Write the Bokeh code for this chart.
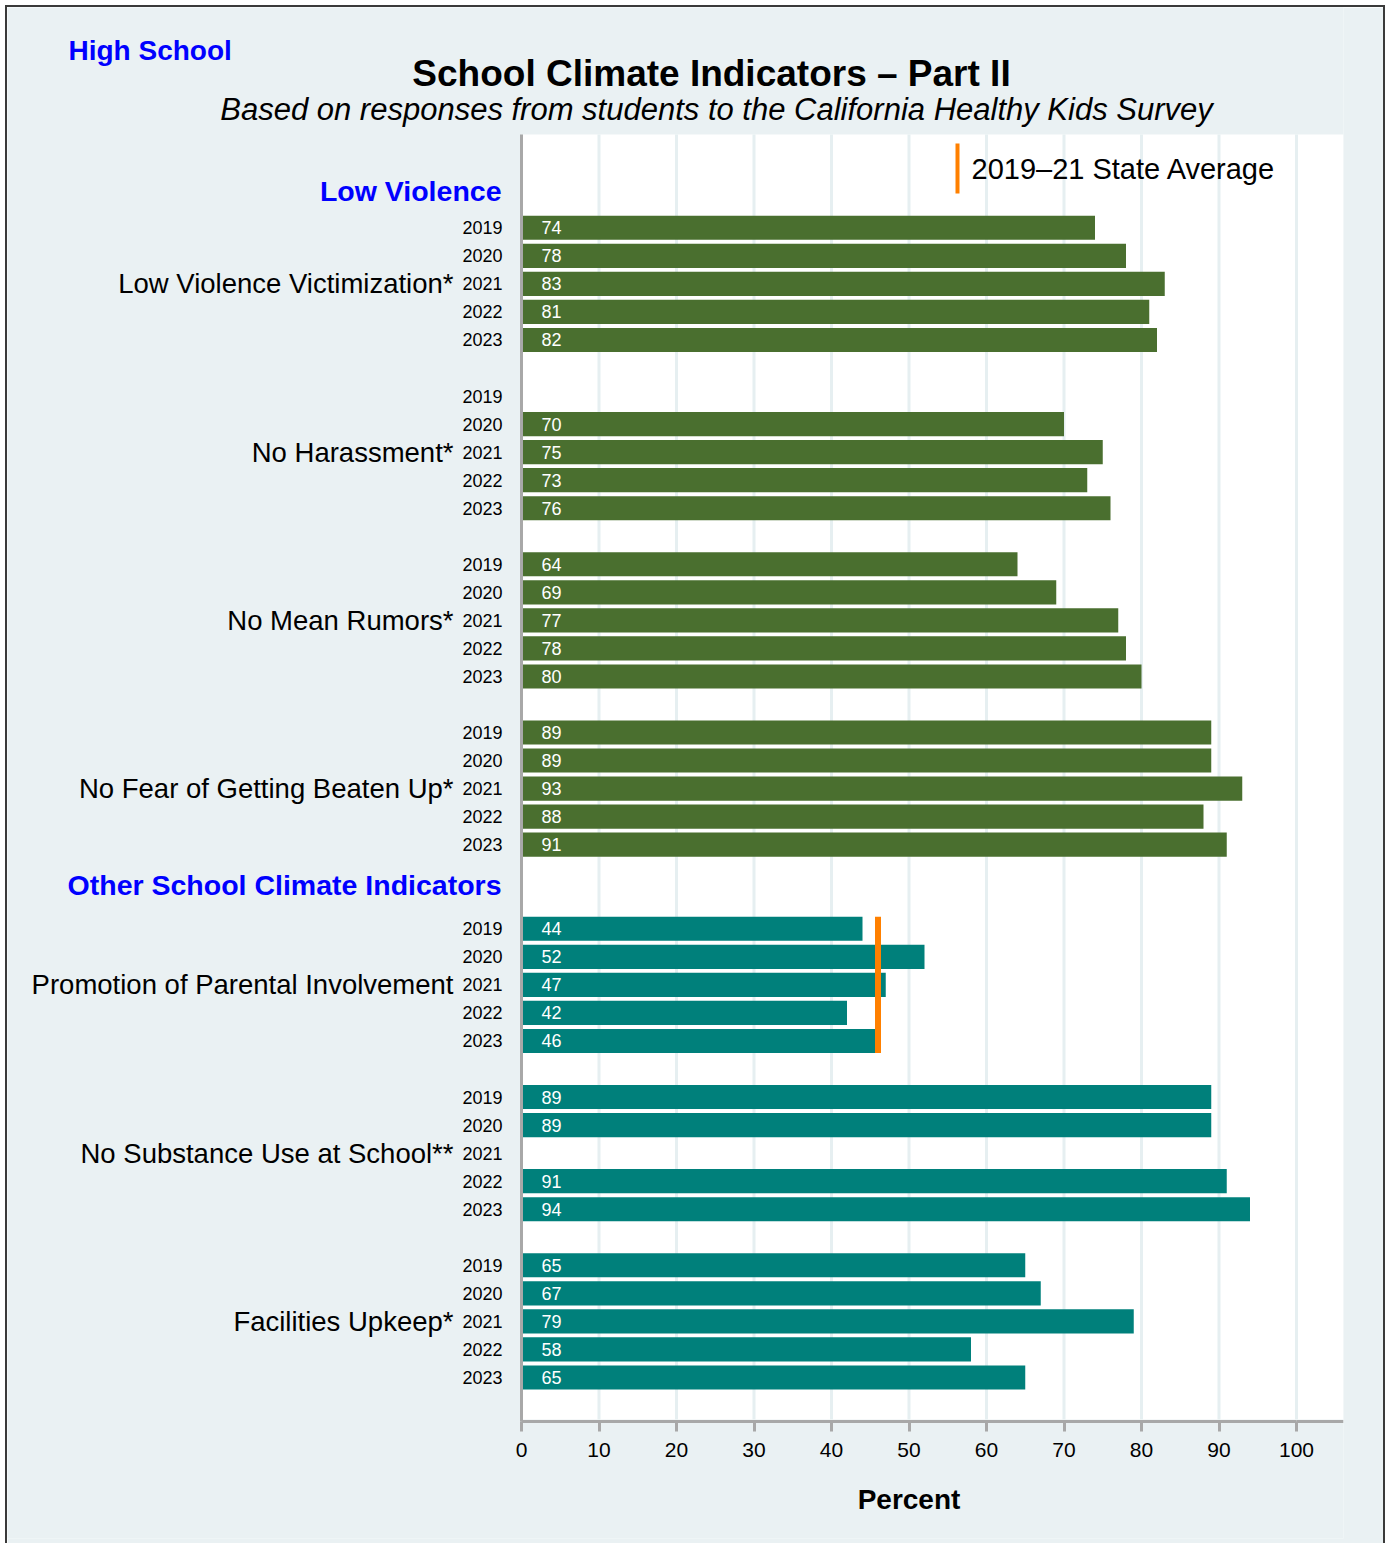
from bokeh.plotting import figure
from bokeh.models import Range1d, FixedTicker, ColumnDataSource
from bokeh.core.properties import value
from bokeh.embed import file_html
from bokeh.resources import INLINE

# ---------------- data ----------------
YEARS = ["2019", "2020", "2021", "2022", "2023"]
INDICATORS = [
    "Low Violence Victimization*",
    "No Harassment*",
    "No Mean Rumors*",
    "No Fear of Getting Beaten Up*",
    "Promotion of Parental Involvement",
    "No Substance Use at School**",
    "Facilities Upkeep*",
]
SECTIONS = ["Low Violence", "Low Violence", "Low Violence", "Low Violence",
            "Other School Climate Indicators", "Other School Climate Indicators",
            "Other School Climate Indicators"]
LOW_VIOLENCE_VICTIMIZATION = [74, 78, 83, 81, 82]
NO_HARASSMENT = [None, 70, 75, 73, 76]
NO_MEAN_RUMORS = [64, 69, 77, 78, 80]
NO_FEAR_BEATEN_UP = [89, 89, 93, 88, 91]
PARENTAL_INVOLVEMENT = [44, 52, 47, 42, 46]
NO_SUBSTANCE_USE = [89, 89, None, 91, 94]
FACILITIES_UPKEEP = [65, 67, 79, 58, 65]
SERIES = [LOW_VIOLENCE_VICTIMIZATION, NO_HARASSMENT, NO_MEAN_RUMORS, NO_FEAR_BEATEN_UP,
          PARENTAL_INVOLVEMENT, NO_SUBSTANCE_USE, FACILITIES_UPKEEP]
STATE_AVG = [None, None, None, None, 46, None, None]
X_TICKS = [0, 10, 20, 30, 40, 50, 60, 70, 80, 90, 100]

HEADER = "High School"
TITLE = "School Climate Indicators \u2013 Part II"
SUBTITLE = "Based on responses from students to the California Healthy Kids Survey"
LEGEND_TEXT = "2019\u201321 State Average"
X_LABEL = "Percent"

# ---------------- styles ----------------
FONT = "Liberation Sans"
BG = "#eaf1f3"
GREEN = "#4a6f2f"
TEAL = "#00807b"
ORANGE = "#ff8000"
AXIS_GRAY = "#a8a8a8"
GRID = "#e6eff1"
BLUE = "#0000ff"

# ---------------- page geometry (pixels) ----------------
PX_X = 7.75          # px per percent
PX_Y = 28.04         # px per bar slot
X0_PAGE = 521        # page x of 0 %
Y0_PAGE = 227.3      # page y of the first slot
CONTENT_LEFT, CONTENT_TOP = 7, 7
FRAME_RIGHT, FRAME_BOTTOM = 1343, 1538


def dx(px):
    return (px - X0_PAGE) / PX_X


def dy(py):
    return (py - Y0_PAGE) / PX_Y


PLOT_TOP = dy(134)
PLOT_BOTTOM = dy(1419)
AXIS_Y = dy(1421)
X_END = dx(FRAME_RIGHT)

# ---------------- slot layout ----------------
slot_of, group_center, section_header = [], [], {}
pos, prev_section = 0, None
for gi, name in enumerate(INDICATORS):
    if gi > 0:
        pos += 6
        if SECTIONS[gi] != prev_section:
            pos += 1
    if SECTIONS[gi] != prev_section:
        section_header[SECTIONS[gi]] = pos
    prev_section = SECTIONS[gi]
    slot_of.append([pos + k for k in range(5)])
    group_center.append(pos + 2)

bar_y, bar_v, bar_lbl, bar_col = [], [], [], []
for gi, vals in enumerate(SERIES):
    col = GREEN if SECTIONS[gi] == "Low Violence" else TEAL
    for k, v in enumerate(vals):
        if v is None:
            continue
        bar_y.append(slot_of[gi][k])
        bar_v.append(v)
        bar_lbl.append(str(v))
        bar_col.append(col)
src = ColumnDataSource(dict(y=bar_y, v=bar_v, lbl=bar_lbl, col=bar_col))

year_y = [s for g in slot_of for s in g]
year_txt = [YEARS[i % 5] for i in range(len(year_y))]

avg_x, avg_y0, avg_y1 = [], [], []
for gi, a in enumerate(STATE_AVG):
    if a is None:
        continue
    avg_x.append(a)
    avg_y0.append(slot_of[gi][0] - 0.43)
    avg_y1.append(slot_of[gi][-1] + 0.43)

hdr_names = list(section_header.keys())
hdr_y = [dy(190) if section_header[n] == 0 else dy(884) for n in hdr_names]

# ---------------- figure ----------------
FRAME_W = FRAME_RIGHT - CONTENT_LEFT
FRAME_H = FRAME_BOTTOM - CONTENT_TOP
p = figure(frame_width=FRAME_W, frame_height=FRAME_H,
           min_border_left=0, min_border_right=40, min_border_top=0, min_border_bottom=6,
           x_range=Range1d(dx(CONTENT_LEFT), X_END),
           y_range=Range1d(dy(FRAME_BOTTOM), dy(CONTENT_TOP)),
           y_axis_location=None,
           output_backend="svg", toolbar_location=None)
p.border_fill_color = BG
p.background_fill_color = BG
p.outline_line_color = None
p.xgrid.grid_line_color = None
p.ygrid.grid_line_color = None
p.styles = {"border": "2px solid #3a3a3a", "margin-left": "5px", "margin-top": "5px"}

# white plotting area
p.quad(left=[0], right=[X_END], top=[PLOT_TOP], bottom=[PLOT_BOTTOM],
       fill_color="white", line_color=None)
# vertical grid lines
p.segment(x0=X_TICKS, x1=X_TICKS, y0=[PLOT_TOP] * len(X_TICKS), y1=[PLOT_BOTTOM] * len(X_TICKS),
          line_color=GRID, line_width=3)

# bars
p.hbar(y="y", left=0, right="v", height=0.86, fill_color="col", line_color=None, source=src)
p.text(x=0, y="y", text="lbl", x_offset=20, source=src, text_color="white",
       text_font=value(FONT), text_font_size="18px", text_baseline="middle", text_align="left")

# state average
p.segment(x0=avg_x, y0=avg_y0, x1=avg_x, y1=avg_y1, line_color=ORANGE, line_width=6)

# left axis line and extension of the bottom axis line
p.segment(x0=[0], x1=[0], y0=[PLOT_TOP], y1=[AXIS_Y], line_color=AXIS_GRAY, line_width=3)
p.segment(x0=[X_TICKS[-1]], x1=[X_END], y0=[AXIS_Y], y1=[AXIS_Y], line_color=AXIS_GRAY, line_width=3)

# x axis placed at the bottom of the white area
xa = p.xaxis[0]
xa.fixed_location = AXIS_Y
xa.bounds = (X_TICKS[0], X_TICKS[-1])
xa.ticker = FixedTicker(ticks=X_TICKS)
xa.axis_line_color = AXIS_GRAY
xa.axis_line_width = 3
xa.major_tick_line_color = AXIS_GRAY
xa.major_tick_line_width = 3
xa.major_tick_out = 10
xa.major_tick_in = 0
xa.minor_tick_line_color = None
xa.major_label_text_font = FONT
xa.major_label_text_font_size = "21px"
xa.major_label_text_color = "black"
xa.major_label_standoff = 11
xa.axis_label = X_LABEL
xa.axis_label_text_font = FONT
xa.axis_label_text_font_size = "28px"
xa.axis_label_text_font_style = "bold"
xa.axis_label_text_color = "black"
xa.axis_label_standoff = 24

# year labels
p.text(x=[0] * len(year_y), y=year_y, text=year_txt, x_offset=-19, text_color="black",
       text_font=value(FONT), text_font_size="18px", text_baseline="middle", text_align="right")
# indicator labels
p.text(x=[0] * len(group_center), y=group_center, text=INDICATORS, x_offset=-68, text_color="black",
       text_font=value(FONT), text_font_size="27.5px", text_baseline="middle", text_align="right")
# section headers
p.text(x=[0] * len(hdr_names), y=hdr_y, text=hdr_names, x_offset=-20, text_color=BLUE,
       text_font=value(FONT), text_font_size="28.5px", text_font_style="bold",
       text_baseline="middle", text_align="right")

# legend
p.segment(x0=[dx(957)], y0=[dy(143)], x1=[dx(957)], y1=[dy(193)], line_color=ORANGE, line_width=4)
p.text(x=[dx(971)], y=[dy(168)], text=[LEGEND_TEXT], text_font=value(FONT), text_font_size="29px",
       text_color="black", text_baseline="middle", text_align="left")

# titles
p.text(x=[dx(68)], y=[dy(50)], text=[HEADER], text_font=value(FONT), text_font_size="28px",
       text_font_style="bold", text_color=BLUE, text_align="left", text_baseline="middle")
p.text(x=[dx(711)], y=[dy(73)], text=[TITLE], text_font=value(FONT), text_font_size="37px",
       text_font_style="bold", text_color="black", text_align="center", text_baseline="middle")
p.text(x=[dx(716)], y=[dy(109)], text=[SUBTITLE], text_font=value(FONT), text_font_size="31px",
       text_font_style="italic", text_color="black", text_align="center", text_baseline="middle")

open("out.html", "w").write(file_html(p, INLINE))
